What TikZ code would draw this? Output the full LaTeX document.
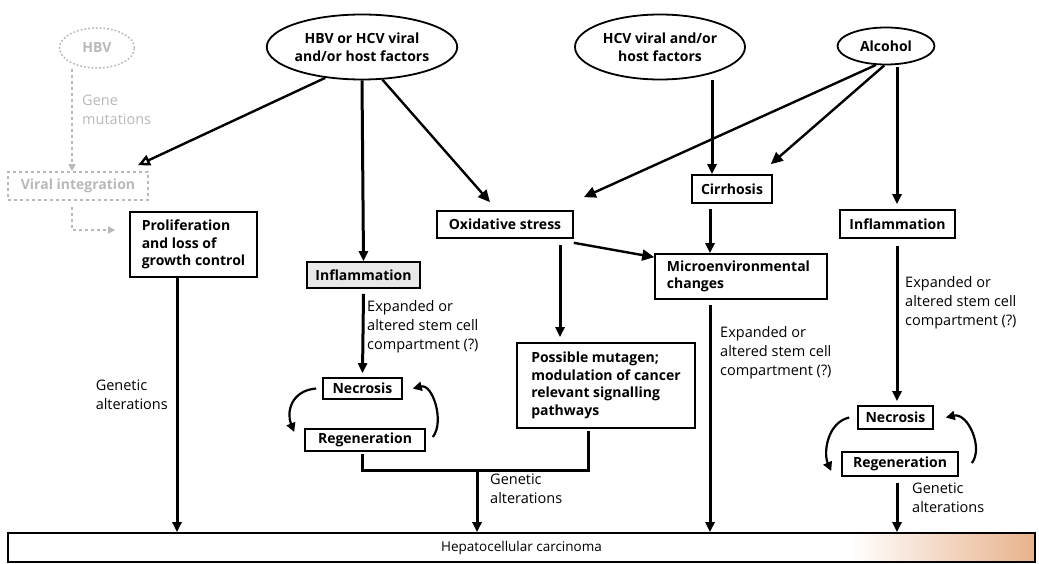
\documentclass[tikz,border=0pt]{standalone}
\usepackage{fontspec}
\setmainfont{Open Sans}
\usetikzlibrary{shapes.geometric,arrows.meta,calc}
\definecolor{salmon}{RGB}{232,178,140}
\begin{document}
\begin{tikzpicture}[x=1pt,y=-1pt,
  box/.style={draw, line width=1.6pt, inner sep=2pt, font=\bfseries\fontsize{14}{17.5}\selectfont},
  ell/.style={ellipse, draw, line width=1.8pt, inner sep=0pt, font=\bfseries\fontsize{14}{18}\selectfont, align=center},
  lab/.style={font=\fontsize{14.5}{19}\selectfont, align=left, inner sep=0pt},
  arr/.style={line width=3pt, -{Triangle[length=10pt,width=9pt]}},
  darr/.style={line width=2.4pt, -{Triangle[length=12pt,width=11pt]}},
  loopar/.style={line width=2.2pt, -{Triangle[length=9pt,width=9pt]}},
  faint/.style={gray!55},
]
\useasboundingbox (0,0) rectangle (1039,564);

% ---- top ellipses
\node[ell, faint, dotted, line width=1.5pt, minimum width=75pt, minimum height=40pt] (hbv) at (97,48) {HBV};
\node[ell, minimum width=180pt, minimum height=65pt] (e1) at (362,47) {HBV or HCV viral\\and/or host factors};
\node[ell, minimum width=170pt, minimum height=65pt] (e2) at (660,47) {HCV viral and/or\\host factors};
\node[ell, minimum width=97pt, minimum height=37pt] (alc) at (886,46) {Alcohol};

% ---- boxes
\node[box, faint, dashed, minimum width=140pt, minimum height=28pt] (viral) at (78,186) {Viral integration};
\node[box, align=left, minimum width=127pt, minimum height=65pt] (prolif) at (193.5,244.5) {Proliferation\\and loss of\\growth control};
\node[box, fill=gray!18, minimum width=113pt, minimum height=26pt] (inflL) at (363.5,275) {Inflammation};
\node[box, minimum width=79pt, minimum height=21pt] (necL) at (362.5,388.5) {Necrosis};
\node[box, minimum width=120pt, minimum height=22pt] (regL) at (365,440) {Regeneration};
\node[box, minimum width=136pt, minimum height=27pt] (oxid) at (505,224.5) {Oxidative stress};
\node[box, align=left, minimum width=178pt, minimum height=85pt] (poss) at (606,385.5) {Possible mutagen;\\modulation of cancer\\relevant signalling\\pathways};
\node[box, minimum width=80pt, minimum height=28pt] (cirr) at (732,189) {Cirrhosis};
\node[box, align=left, minimum width=172pt, minimum height=45pt] (micro) at (741,276.5) {Microenvironmental\\changes\hspace*{6.5em}};
\node[box, minimum width=115pt, minimum height=28pt] (inflR) at (897.5,224) {Inflammation};
\node[box, minimum width=75pt, minimum height=23pt] (necR) at (895.5,417.5) {Necrosis};
\node[box, minimum width=116pt, minimum height=24pt] (regR) at (900,464) {Regeneration};

% ---- HCC bar
\fill[left color=white, right color=salmon] (850,534) rectangle (1034,561);
\node[draw, line width=1.6pt, minimum width=1027pt, minimum height=29pt, font=\fontsize{13.5}{17}\selectfont] (hcc) at (521.5,547.5) {Hepatocellular carcinoma};

% ---- labels
\node[lab, faint, anchor=west] (lmut) at (82,110) {Gene\\mutations};
\node[lab, anchor=north east] (lgen1) at (168,380) {Genetic\\alterations};
\node[lab, anchor=north west] (lexp1) at (367,300) {Expanded or\\altered stem cell\\compartment (?)};
\node[lab, anchor=north west] (lgen2) at (490,474) {Genetic\\alterations};
\node[lab, anchor=north west] (lexp2) at (720,326) {Expanded or\\altered stem cell\\compartment (?)};
\node[lab, anchor=north west] (lexp3) at (905,276) {Expanded or\\altered stem cell\\compartment (?)};
\node[lab, anchor=north west] (lgen3) at (912,483) {Genetic\\alterations};

% ---- helper x positions
\coordinate (xp) at (177,0);
\coordinate (xo) at (560,0);
\coordinate (xc) at (712,0);
\coordinate (xm) at (710,0);
\coordinate (xr) at (897,0);
\coordinate (xb) at (477,0);
\coordinate (xpb) at (588,0);
\coordinate (xv) at (72,0);

% ---- faint HBV path
\draw[faint, dashed, line width=1.6pt, -{Triangle[length=7pt,width=7pt]}] (hbv.south -| xv) -- (viral.north -| xv);
\draw[faint, dashed, line width=1.6pt, -{Triangle[length=7pt,width=7pt]}] ([yshift=-6pt]viral.south -| xv) |- ([xshift=-14pt]prolif.west |- 0,230);

% ---- arrows
\draw[darr, -{Triangle[open,length=12pt,width=11pt]}] (e1.-140) -- ([xshift=60pt,yshift=6pt]viral.north);
\draw[arr] (e1.south) -- (inflL.north);
\draw[darr] (e1.-58) -- ([xshift=-15pt,yshift=8pt]oxid.north);
\draw[arr] ([yshift=-5pt]inflL.south) -- ([yshift=4pt]necL.north);
\draw[arr] (prolif.south -| xp) -- (hcc.north -| xp);
\draw[arr] ([yshift=-6pt]oxid.south -| xo) -- ([yshift=5pt]poss.north -| xo);
\draw[darr] ([yshift=-4pt]oxid.south east) -- ([yshift=-4pt]micro.north west);
\draw[arr] (e2.south -| xc) -- (cirr.north -| xc);
\draw[arr] ([yshift=-5pt]cirr.south -| xm) -- (micro.north -| xm);
\draw[arr] ([yshift=-5pt]micro.south -| xm) -- (hcc.north -| xm);
\draw[darr] (alc.-118) -- ([xshift=10pt,yshift=13pt]oxid.north east);
\draw[darr] (alc.-95) -- ([xshift=-2pt,yshift=10pt]cirr.north east);
\draw[arr] ([yshift=-2pt]alc.south -| xr) -- ([yshift=5pt]inflR.north -| xr);
\draw[arr] ([yshift=-7pt]inflR.south -| xr) -- ([yshift=4pt]necR.north -| xr);
\draw[arr] ([yshift=-6pt]regR.south -| xr) -- (hcc.north -| xr);

% ---- bracket
\draw[line width=3pt] ([yshift=-2pt]regL.south -| 362,0) |- (xpb |- 0,470) -- ([yshift=-2pt]poss.south -| xpb);
\draw[arr] (xb |- 0,470) -- (hcc.north -| xb);

% ---- loops
\draw[loopar] ([xshift=-6pt]necL.west) .. controls +(-25,2) and +(-8,-20) .. ([xshift=-10pt,yshift=8pt]regL.west);
\draw[loopar] ([xshift=7pt,yshift=3pt]regL.east) .. controls +(12,-15) and +(20,-5) .. ([xshift=10pt]necL.east);
\draw[loopar] ([xshift=-8pt]necR.west) .. controls +(-22,5) and +(-8,-18) .. ([xshift=-10pt,yshift=-7pt]regR.west);
\draw[loopar] ([xshift=13pt,yshift=1pt]regR.east) .. controls +(12,-15) and +(22,-5) .. ([xshift=12pt]necR.east);
\end{tikzpicture}
\end{document}
